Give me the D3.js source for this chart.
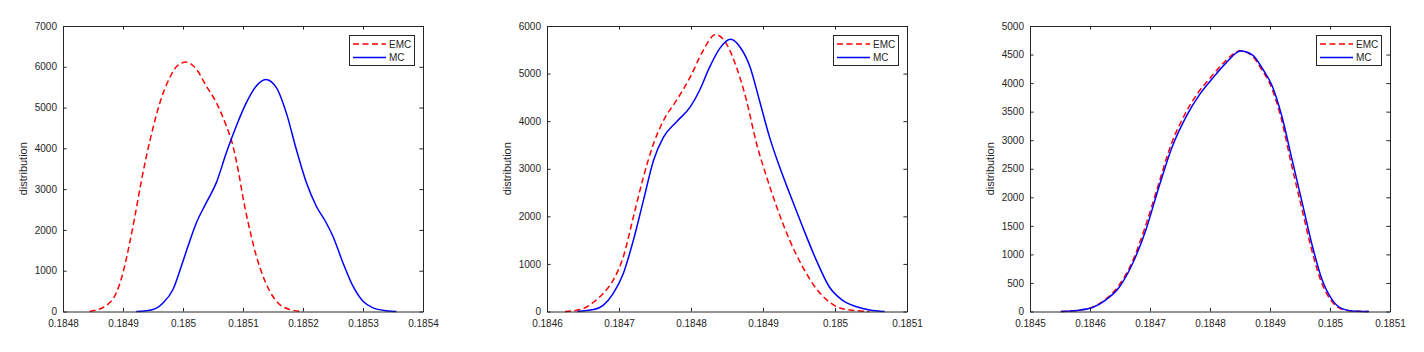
<!DOCTYPE html>
<html>
<head>
<meta charset="utf-8">
<script src="https://cdn.jsdelivr.net/npm/d3@7"></script>
<style>
  body { margin: 0; background: #fff; }
  svg { display: block; }
  text { font-family: "Liberation Sans", Arial, sans-serif; fill: #262626; }
</style>
</head>
<body>
<div id="chart"></div>
<script>
// panel 1
const p1EmcX = [0.1848444, 0.1848722, 0.1848889, 0.1849, 0.1849111, 0.1849194, 0.1849306, 0.1849389, 0.18495, 0.1849611, 0.1849778, 0.1849917, 0.1850056, 0.1850222, 0.1850389, 0.1850556, 0.1850722, 0.1850833, 0.1850917, 0.1851028, 0.1851139, 0.1851222, 0.1851333, 0.1851444, 0.1851583, 0.1851778, 0.1852]
const p1EmcY = [0, 150, 460, 950, 1680, 2300, 3200, 3800, 4500, 5100, 5730, 6040, 6115, 5940, 5530, 5120, 4550, 4060, 3480, 2580, 1840, 1360, 870, 500, 210, 50, 0]
const p1McX = [0.1849222, 0.18495, 0.1849667, 0.1849833, 0.1849972, 0.1850083, 0.1850222, 0.1850389, 0.1850556, 0.1850722, 0.1850889, 0.1851056, 0.1851222, 0.1851378, 0.1851556, 0.1851722, 0.1851889, 0.1852056, 0.1852222, 0.1852389, 0.18525, 0.1852667, 0.1852833, 0.1853, 0.1853167, 0.1853389, 0.1853556]
const p1McY = [0, 50, 210, 540, 1110, 1600, 2170, 2670, 3160, 3890, 4550, 5120, 5530, 5690, 5490, 4870, 3970, 3160, 2580, 2170, 1840, 1190, 620, 250, 90, 20, 0]

// panel 2
const p2EmcX = [0.184625, 0.184646, 0.184665, 0.184678, 0.184692, 0.184706, 0.18472, 0.184734, 0.184748, 0.184762, 0.18478, 0.184799, 0.184817, 0.184834, 0.184849, 0.184863, 0.184877, 0.184891, 0.184905, 0.184919, 0.184937, 0.184955, 0.184974, 0.184992, 0.18501, 0.185048]
const p2EmcY = [0, 40, 200, 380, 660, 1150, 1990, 2830, 3530, 4020, 4440, 4930, 5490, 5820, 5630, 5140, 4440, 3530, 2830, 2200, 1500, 940, 480, 200, 60, 0]
const p2McX = [0.184642, 0.184665, 0.184678, 0.184692, 0.184706, 0.18472, 0.184734, 0.184748, 0.184762, 0.18478, 0.184799, 0.184812, 0.184826, 0.18484, 0.184855, 0.184868, 0.184882, 0.184895, 0.184909, 0.184923, 0.184937, 0.184955, 0.184974, 0.184992, 0.18501, 0.18503, 0.185048, 0.185069]
const p2McY = [0, 40, 130, 380, 800, 1500, 2340, 3180, 3670, 3990, 4300, 4650, 5140, 5530, 5720, 5560, 5140, 4440, 3670, 3040, 2480, 1780, 1080, 520, 240, 100, 30, 0]

// panel 3
const p3EmcX = [0.184551, 0.184581, 0.184603, 0.184625, 0.184647, 0.18467, 0.184691, 0.184714, 0.184735, 0.184758, 0.18478, 0.184802, 0.184824, 0.184851, 0.18487, 0.184886, 0.184903, 0.184919, 0.184935, 0.184952, 0.184969, 0.184985, 0.185002, 0.185018, 0.185036, 0.185064]
const p3EmcY = [0, 23, 72, 205, 440, 860, 1450, 2220, 2920, 3450, 3830, 4110, 4370, 4565, 4480, 4240, 3910, 3370, 2610, 1850, 1100, 530, 190, 48, 10, 0]
const p3McX = [0.184552, 0.184582, 0.184604, 0.184626, 0.184649, 0.184671, 0.184693, 0.184715, 0.184737, 0.18476, 0.184782, 0.184804, 0.184826, 0.184851, 0.184871, 0.184887, 0.184904, 0.18492, 0.184937, 0.184954, 0.184971, 0.184987, 0.185004, 0.18502, 0.185037, 0.185065]
const p3McY = [0, 23, 70, 200, 430, 840, 1425, 2185, 2885, 3410, 3790, 4080, 4345, 4560, 4490, 4260, 3940, 3410, 2650, 1890, 1130, 550, 200, 50, 10, 0]

// axes ticks
const p1XTicks = [0.1848, 0.1849, 0.1850, 0.1851, 0.1852, 0.1853, 0.1854]
const p1YTicks = [0, 1000, 2000, 3000, 4000, 5000, 6000, 7000]
const p2XTicks = [0.1846, 0.1847, 0.1848, 0.1849, 0.1850, 0.1851]
const p2YTicks = [0, 1000, 2000, 3000, 4000, 5000, 6000]
const p3XTicks = [0.1845, 0.1846, 0.1847, 0.1848, 0.1849, 0.1850, 0.1851]
const p3YTicks = [0, 500, 1000, 1500, 2000, 2500, 3000, 3500, 4000, 4500, 5000]

const seriesNames = ['EMC', 'MC']
const seriesColors = ['#ff0000', '#0000ff']
const yLabel = 'distribution'

const panels = [
  {left: 63, xTicks: p1XTicks, yTicks: p1YTicks, series: [[p1EmcX, p1EmcY], [p1McX, p1McY]]},
  {left: 547, xTicks: p2XTicks, yTicks: p2YTicks, series: [[p2EmcX, p2EmcY], [p2McX, p2McY]]},
  {left: 1030, xTicks: p3XTicks, yTicks: p3YTicks, series: [[p3EmcX, p3EmcY], [p3McX, p3McY]]},
]

const W = 1424, H = 352
const plotTop = 26, plotBottom = 311.5, plotW = 360
const tickLen = 3.6
const axisColor = '#262626'
const fmtX = d => String(+d.toFixed(4))
const fmtY = d => String(d)

const svg = d3.select('#chart').append('svg')
  .attr('width', W)
  .attr('height', H)

panels.forEach(p => {
  const xd = d3.extent(p.xTicks), yd = d3.extent(p.yTicks)
  const x = d3.scaleLinear().domain(xd).range([p.left, p.left + plotW])
  const y = d3.scaleLinear().domain(yd).range([plotBottom, plotTop])
  const g = svg.append('g')

  // curves
  const line = d3.line()
    .x(d => x(d[0]))
    .y(d => y(d[1]))
    .curve(d3.curveMonotoneX)
  p.series.forEach(([xs, ys], i) => {
    g.append('path')
      .datum(xs.map((v, k) => [v, ys[k]]))
      .attr('fill', 'none')
      .attr('stroke', seriesColors[i])
      .attr('stroke-width', 1.5)
      .attr('stroke-dasharray', i === 0 ? '6,3.5' : null)
      .attr('d', line)
  })

  // axes: ticks inside, box on
  const xb = g.append('g').attr('transform', `translate(0,${plotBottom})`)
    .call(d3.axisBottom(x).tickValues(p.xTicks).tickFormat(fmtX).tickSizeInner(-tickLen).tickSizeOuter(0).tickPadding(8))
  const xt = g.append('g').attr('transform', `translate(0,${plotTop})`)
    .call(d3.axisTop(x).tickValues(p.xTicks).tickFormat('').tickSizeInner(-tickLen).tickSizeOuter(0))
  const yl = g.append('g').attr('transform', `translate(${p.left},0)`)
    .call(d3.axisLeft(y).tickValues(p.yTicks).tickFormat(fmtY).tickSizeInner(-tickLen).tickSizeOuter(0).tickPadding(6))
  const yr = g.append('g').attr('transform', `translate(${p.left + plotW},0)`)
    .call(d3.axisRight(y).tickValues(p.yTicks).tickFormat('').tickSizeInner(-tickLen).tickSizeOuter(0))
  ;[xb, xt, yl, yr].forEach(a => {
    a.selectAll('.domain').attr('stroke', axisColor)
    a.selectAll('.tick line').attr('stroke', axisColor)
    a.selectAll('.tick text')
      .attr('font-size', 10)
      .attr('font-family', '"Liberation Sans", Arial, sans-serif')
      .attr('fill', axisColor)
  })

  // y label
  g.append('text')
    .attr('transform', `translate(${p.left - 40},${(plotTop + plotBottom) / 2}) rotate(-90)`)
    .attr('text-anchor', 'middle')
    .attr('dy', '0.35em')
    .attr('font-size', 11)
    .text(yLabel)

  // legend
  const lx = p.left + plotW - 8 - 66, ly = plotTop + 9
  const leg = g.append('g').attr('transform', `translate(${lx},${ly})`)
  leg.append('rect')
    .attr('x', 0.5).attr('y', 0.5)
    .attr('width', 65).attr('height', 30)
    .attr('fill', '#fff')
    .attr('stroke', axisColor)
    .attr('stroke-width', 1)
  seriesNames.forEach((name, i) => {
    const ry = 9 + i * 13.5
    leg.append('line')
      .attr('x1', 4).attr('x2', 37)
      .attr('y1', ry).attr('y2', ry)
      .attr('stroke', seriesColors[i])
      .attr('stroke-width', 1.5)
      .attr('stroke-dasharray', i === 0 ? '6,3.5' : null)
    leg.append('text')
      .attr('x', 40).attr('y', ry + 3.5)
      .attr('font-size', 10)
      .text(name)
  })
})
</script>
</body>
</html>
